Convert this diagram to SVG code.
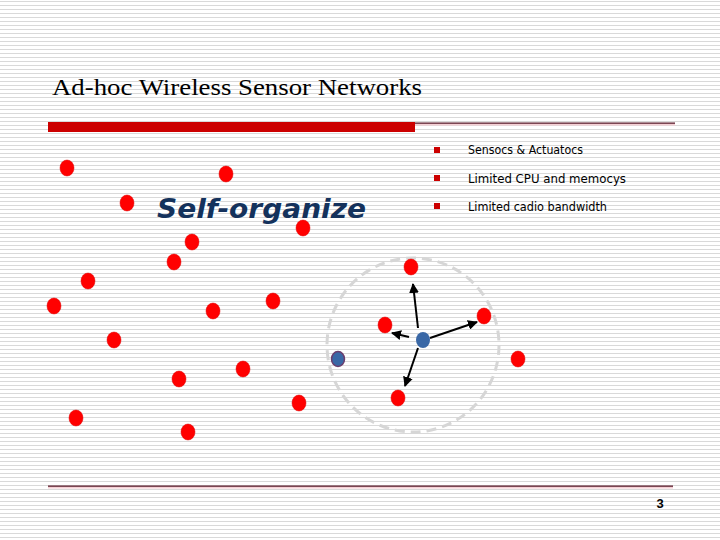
<svg xmlns="http://www.w3.org/2000/svg" width="720" height="540" viewBox="0 0 720 540">
  <defs>
    <pattern id="stripes" x="0" y="0" width="720" height="4" patternUnits="userSpaceOnUse">
      <rect x="0" y="0" width="720" height="4" fill="#ffffff"/>
      <rect x="0" y="1" width="720" height="1" fill="#d9d9d9"/>
    </pattern>
    <marker id="arrow" viewBox="0 0 10 10" refX="9" refY="5" markerWidth="5" markerHeight="5" orient="auto" markerUnits="strokeWidth">
      <path d="M0,0 L10,5 L0,10 z" fill="#000000"/>
    </marker>
    <style>
      .red { fill: #ff0000; stroke: #e00000; stroke-width: 0.5; }
      .bullet { fill: #cc0000; }
      .btext { font-family: "DejaVu Sans", "Liberation Sans", sans-serif; font-size: 12.5px; fill: #000000; }
      .conn { stroke: #000000; stroke-width: 2; fill: none; marker-end: url(#arrow); }
    </style>
  </defs>

  <rect x="0" y="0" width="720" height="540" fill="url(#stripes)"/>

  <text x="52" y="95" font-family="'Liberation Serif', serif" font-size="24" textLength="370" lengthAdjust="spacingAndGlyphs" fill="#000000">Ad-hoc Wireless Sensor Networks</text>

  <rect x="48" y="122" width="367" height="10" fill="#cc0000"/>
  <rect x="415" y="124" width="260" height="1.5" fill="#f5d0d5"/>
  <rect x="415" y="122.5" width="260" height="1.3" fill="#5c1a2a"/>
  <rect x="48" y="487" width="625" height="1.5" fill="#f5d0d5"/>
  <rect x="48" y="485.5" width="625" height="1.3" fill="#5c1a2a"/>

  <text x="660" y="508" font-family="'Liberation Sans', sans-serif" font-size="13" font-weight="bold" fill="#000000" text-anchor="middle">3</text>

  <g id="bullets">
    <rect class="bullet" x="434" y="147" width="6" height="6"/>
    <text class="btext" x="468" y="154" textLength="115" lengthAdjust="spacingAndGlyphs">Sensocs &amp; Actuatocs</text>
    <rect class="bullet" x="434" y="175" width="6" height="6"/>
    <text class="btext" x="468" y="183" textLength="158" lengthAdjust="spacingAndGlyphs">Limited CPU and memocys</text>
    <rect class="bullet" x="434" y="203" width="6" height="6"/>
    <text class="btext" x="468" y="211" textLength="139" lengthAdjust="spacingAndGlyphs">Limited cadio bandwidth</text>
  </g>

  <text x="157" y="218" font-family="'DejaVu Sans', sans-serif" font-size="27" font-weight="bold" font-style="italic" fill="#14325c" textLength="209" lengthAdjust="spacingAndGlyphs">Self-organize</text>

  <ellipse cx="413" cy="345" rx="86" ry="87" fill="none" stroke="#d6d6d6" stroke-width="3" stroke-dasharray="10 6"/>

  <g id="connectors">
    <line class="conn" x1="418" y1="328" x2="413" y2="284"/>
    <line class="conn" x1="409" y1="337" x2="392" y2="333"/>
    <line class="conn" x1="430" y1="338" x2="477" y2="322"/>
    <line class="conn" x1="418" y1="348" x2="405" y2="386"/>
  </g>

  <g id="nodes">
    <ellipse id="n1" class="red" cx="67" cy="168" rx="7" ry="8"/>
    <ellipse id="n2" class="red" cx="226" cy="174" rx="7" ry="8"/>
    <ellipse id="n3" class="red" cx="127" cy="203" rx="7" ry="8"/>
    <ellipse id="n4" class="red" cx="303" cy="228" rx="7" ry="8"/>
    <ellipse id="n5" class="red" cx="192" cy="242" rx="7" ry="8"/>
    <ellipse id="n6" class="red" cx="174" cy="262" rx="7" ry="8"/>
    <ellipse id="n7" class="red" cx="88" cy="281" rx="7" ry="8"/>
    <ellipse id="n8" class="red" cx="54" cy="306" rx="7" ry="8"/>
    <ellipse id="n9" class="red" cx="273" cy="301" rx="7" ry="8"/>
    <ellipse id="n10" class="red" cx="213" cy="311" rx="7" ry="8"/>
    <ellipse id="n11" class="red" cx="114" cy="340" rx="7" ry="8"/>
    <ellipse id="n12" class="red" cx="243" cy="369" rx="7" ry="8"/>
    <ellipse id="n13" class="red" cx="179" cy="379" rx="7" ry="8"/>
    <ellipse id="n14" class="red" cx="299" cy="403" rx="7" ry="8"/>
    <ellipse id="n15" class="red" cx="76" cy="418" rx="7" ry="8"/>
    <ellipse id="n16" class="red" cx="188" cy="432" rx="7" ry="8"/>
    <ellipse id="n17" class="red" cx="411" cy="267" rx="7" ry="8"/>
    <ellipse id="n18" class="red" cx="484" cy="316" rx="7" ry="8"/>
    <ellipse id="n19" class="red" cx="385" cy="325" rx="7" ry="8"/>
    <ellipse id="n20" class="red" cx="518" cy="359" rx="7" ry="8"/>
    <ellipse id="n21" class="red" cx="398" cy="398" rx="7" ry="8"/>
    <ellipse id="blue1" cx="423" cy="340" rx="7" ry="8" fill="#3a68a6"/>
    <ellipse id="blue2" cx="338" cy="359" rx="6.5" ry="7.5" fill="#3a68a6" stroke="#6a3e6e" stroke-width="1.5"/>
  </g>
</svg>
